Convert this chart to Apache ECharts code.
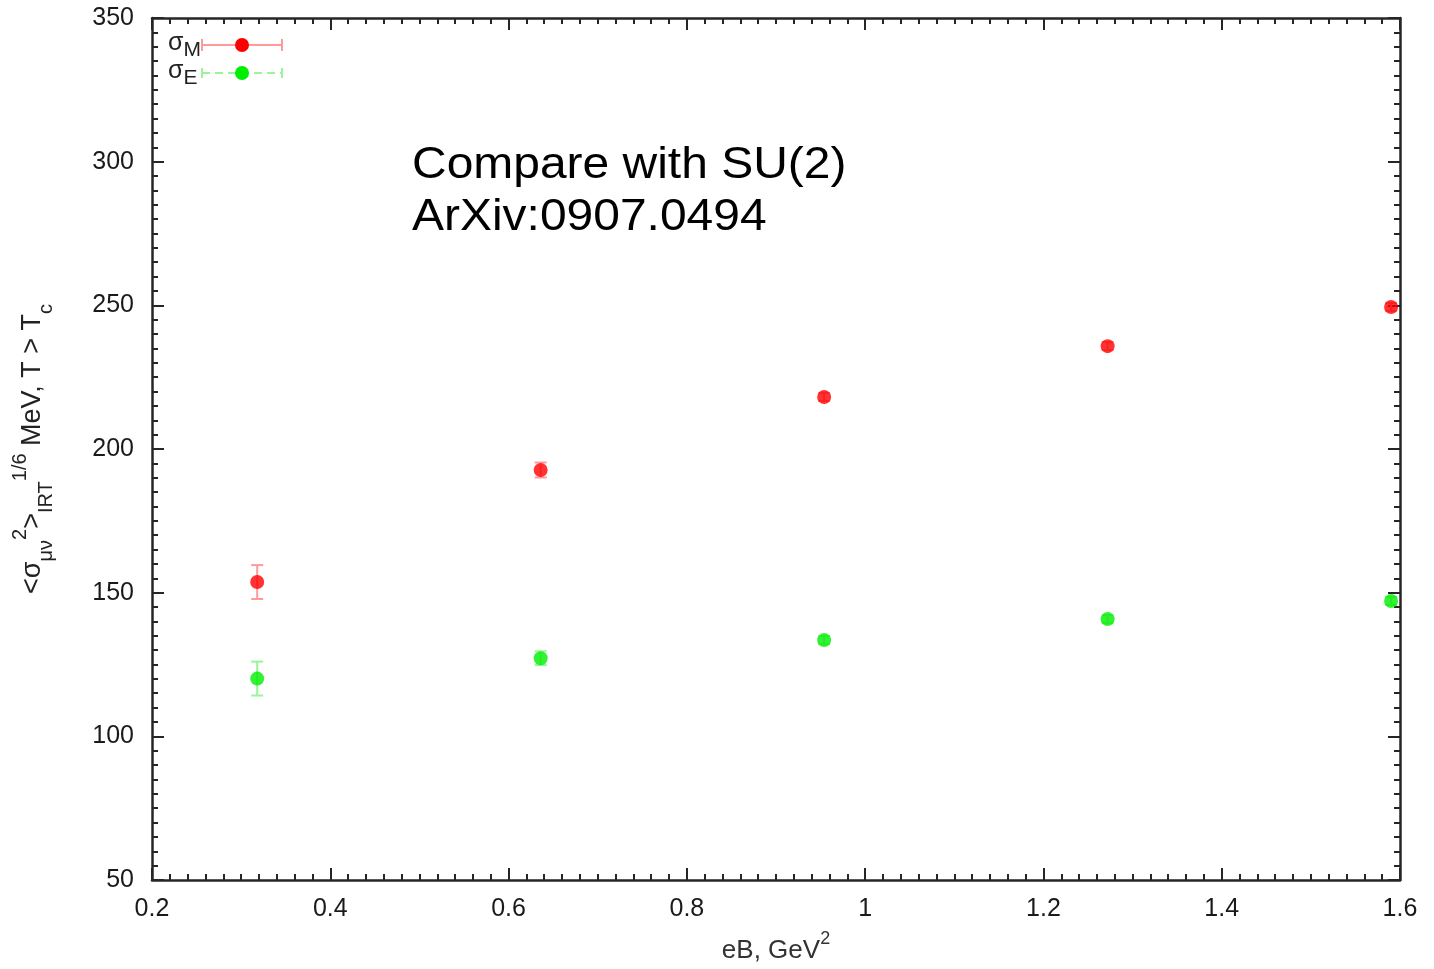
<!DOCTYPE html>
<html>
<head>
<meta charset="utf-8">
<script src="https://cdn.jsdelivr.net/npm/echarts@6/dist/echarts.min.js"></script>
<style>
html,body{margin:0;padding:0;background:#fff;}
#chart{width:1434px;height:969px;}
</style>
</head>
<body>
<div id="chart"></div>
<script>
// Data
const eB = [0.318, 0.636, 0.954, 1.272, 1.59];
const sigmaM = [153.7, 192.7, 218.1, 235.8, 249.4];
const sigmaMErr = [5.9, 2.6, 1.4, 1.4, 1.4];
const sigmaE = [120.1, 127.2, 133.5, 140.8, 147.1];
const sigmaEErr = [5.9, 2.4, 1.4, 1.4, 1.4];
const xTicks = [0.2, 0.4, 0.6, 0.8, 1, 1.2, 1.4, 1.6];
const yTicks = [50, 100, 150, 200, 250, 300, 350];

const RED = '#ff0000', RED_L = '#ff9a9a';
const GREEN = '#00ee00', GREEN_L = '#9af59a';
const FONT = '"Liberation Sans", Arial, Helvetica, sans-serif';
const AXIS_COLOR = '#262626';

function build(xs, ys, es) { return xs.map((x, i) => [x, ys[i], es[i]]); }

function errRender(color) {
  return function (params, api) {
    const x = api.value(0), y = api.value(1), e = api.value(2);
    const t = api.coord([x, y + e]);
    const b = api.coord([x, y - e]);
    const hw = 6;
    const st = { stroke: color, lineWidth: 2 };
    return {
      type: 'group',
      children: [
        { type: 'line', shape: { x1: t[0], y1: t[1], x2: b[0], y2: b[1] }, style: st },
        { type: 'line', shape: { x1: t[0] - hw, y1: t[1], x2: t[0] + hw, y2: t[1] }, style: st },
        { type: 'line', shape: { x1: b[0] - hw, y1: b[1], x2: b[0] + hw, y2: b[1] }, style: st }
      ]
    };
  };
}

const tickLabel = { fontFamily: FONT, fontSize: 25, color: '#1a1a1a' };

const chart = echarts.init(document.getElementById('chart'), null, { renderer: 'canvas' });

const commonX = {
  type: 'value', min: 0.2, max: 1.6, interval: 0.2,
  axisLine: { show: true, onZero: false, lineStyle: { color: AXIS_COLOR, width: 2.5 } },
  axisTick: { show: true, inside: true, length: 12, lineStyle: { color: AXIS_COLOR, width: 2 } },
  minorTick: { show: true, splitNumber: 10, length: 6, lineStyle: { color: AXIS_COLOR, width: 2 } },
  splitLine: { show: false }
};
const commonY = {
  type: 'value', min: 50, max: 350, interval: 50,
  axisLine: { show: true, onZero: false, lineStyle: { color: AXIS_COLOR, width: 2.5 } },
  axisTick: { show: true, inside: true, length: 12, lineStyle: { color: AXIS_COLOR, width: 2 } },
  minorTick: { show: true, splitNumber: 10, length: 6, lineStyle: { color: AXIS_COLOR, width: 2 } },
  splitLine: { show: false }
};

chart.setOption({
  backgroundColor: '#ffffff',
  animation: false,
  grid: { left: 152, right: 34, top: 18, bottom: 89, containLabel: false },
  xAxis: [
    Object.assign({}, commonX, {
      position: 'bottom',
      axisLabel: Object.assign({}, tickLabel, {
        margin: 17,
        formatter: v => { const t = xTicks.find(k => Math.abs(k - v) < 1e-9); return t === undefined ? '' : String(t); }
      }),
      name: '{n|eB, GeV}{sup|2}',
      nameLocation: 'middle',
      nameGap: 50,
      nameTextStyle: {
        rich: {
          n: { fontFamily: FONT, fontSize: 26, color: '#333', lineHeight: 34, verticalAlign: 'bottom' },
          sup: { fontFamily: FONT, fontSize: 18, color: '#333', lineHeight: 34, verticalAlign: 'top' }
        }
      }
    }),
    Object.assign({}, commonX, { position: 'top', axisLabel: { show: false } })
  ],
  yAxis: [
    Object.assign({}, commonY, {
      position: 'left',
      axisLabel: Object.assign({}, tickLabel, {
        margin: 18,
        formatter: v => { const t = yTicks.find(k => Math.abs(k - v) < 1e-9); return t === undefined ? '' : String(t); }
      }),
      name: '{n|<σ}{sub|μν}{sup|2}{n|>}{sub|IRT}{sup|1/6}{n| MeV, T > T}{sub|c}',
      nameLocation: 'middle',
      nameRotate: 90,
      nameGap: 96,
      nameTextStyle: {
        rich: {
          n: { fontFamily: FONT, fontSize: 27, color: '#222', lineHeight: 46, verticalAlign: 'middle' },
          sub: { fontFamily: FONT, fontSize: 20, color: '#222', lineHeight: 46, verticalAlign: 'bottom' },
          sup: { fontFamily: FONT, fontSize: 20, color: '#222', lineHeight: 46, verticalAlign: 'top' }
        }
      }
    }),
    Object.assign({}, commonY, { position: 'right', axisLabel: { show: false } })
  ],
  series: [
    {
      name: 'errM', type: 'custom', xAxisIndex: 0, yAxisIndex: 0, z: 2,
      renderItem: errRender(RED_L),
      data: build(eB, sigmaM, sigmaMErr),
      encode: { x: 0, y: [1] }
    },
    {
      name: 'errE', type: 'custom', xAxisIndex: 0, yAxisIndex: 0, z: 2,
      renderItem: errRender(GREEN_L),
      data: build(eB, sigmaE, sigmaEErr),
      encode: { x: 0, y: [1] }
    },
    {
      name: 'σM', type: 'scatter', z: 3, symbol: 'circle', symbolSize: 14,
      itemStyle: { color: RED },
      data: eB.map((x, i) => [x, sigmaM[i]])
    },
    {
      name: 'σE', type: 'scatter', z: 3, symbol: 'circle', symbolSize: 14,
      itemStyle: { color: GREEN },
      data: eB.map((x, i) => [x, sigmaE[i]])
    }
  ],
  graphic: [
    // legend: sigma_M
    {
      type: 'text', left: 168, top: 30,
      style: {
        text: '{a|σ}{b|M}',
        rich: {
          a: { fontFamily: FONT, fontSize: 25, fill: '#222', lineHeight: 30, verticalAlign: 'top' },
          b: { fontFamily: FONT, fontSize: 21, fill: '#222', lineHeight: 30, verticalAlign: 'bottom', padding: [10, 0, 0, 0] }
        }
      }
    },
    { type: 'line', shape: { x1: 202, y1: 45, x2: 282, y2: 45 }, style: { stroke: RED_L, lineWidth: 2 } },
    { type: 'line', shape: { x1: 202, y1: 39, x2: 202, y2: 51 }, style: { stroke: RED_L, lineWidth: 2 } },
    { type: 'line', shape: { x1: 282, y1: 39, x2: 282, y2: 51 }, style: { stroke: RED_L, lineWidth: 2 } },
    { type: 'circle', shape: { cx: 242, cy: 45, r: 7 }, style: { fill: RED } },
    // legend: sigma_E
    {
      type: 'text', left: 168, top: 58,
      style: {
        text: '{a|σ}{b|E}',
        rich: {
          a: { fontFamily: FONT, fontSize: 25, fill: '#222', lineHeight: 30, verticalAlign: 'top' },
          b: { fontFamily: FONT, fontSize: 21, fill: '#222', lineHeight: 30, verticalAlign: 'bottom', padding: [10, 0, 0, 0] }
        }
      }
    },
    { type: 'line', shape: { x1: 202, y1: 73, x2: 282, y2: 73 }, style: { stroke: GREEN_L, lineWidth: 2, lineDash: [8, 5] } },
    { type: 'line', shape: { x1: 202, y1: 68, x2: 202, y2: 78 }, style: { stroke: GREEN_L, lineWidth: 2 } },
    { type: 'line', shape: { x1: 282, y1: 68, x2: 282, y2: 78 }, style: { stroke: GREEN_L, lineWidth: 2 } },
    { type: 'circle', shape: { cx: 242, cy: 73, r: 7 }, style: { fill: GREEN } },
    // annotation
    {
      type: 'text', x: 412, y: 140, scaleX: 1.09,
      style: {
        text: 'Compare with SU(2)\nArXiv:0907.0494',
        fontFamily: FONT, fontSize: 44, lineHeight: 52, fill: '#000'
      }
    }
  ]
});
</script>
</body>
</html>
